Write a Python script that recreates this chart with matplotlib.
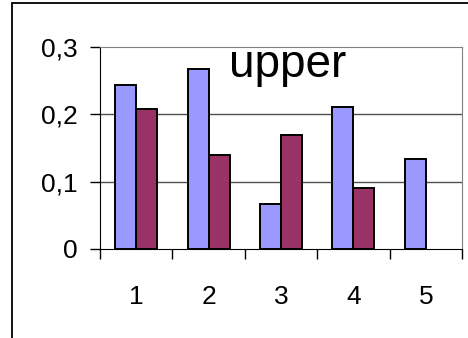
import numpy as np
import matplotlib
matplotlib.use('Agg')
import matplotlib.pyplot as plt
from matplotlib.patches import Rectangle

plt.rcParams['font.family'] = ['Liberation Sans', 'DejaVu Sans']

categories = ['1', '2', '3', '4', '5']
blue_vals = [0.244, 0.267, 0.067, 0.211, 0.134]
red_vals = [0.208, 0.140, 0.169, 0.091, np.nan]
ytick_vals = [0, 0.1, 0.2, 0.3]
ytick_labels = ['0', '0,1', '0,2', '0,3']

fig = plt.figure(figsize=(4.68, 3.38), dpi=100)

# outer chart frame (runs off the right and bottom edges)
fig.patches.append(Rectangle((12/468, -0.1), 1.0, 1 - 3/338 + 0.1,
                             transform=fig.transFigure, fill=False,
                             edgecolor='black', linewidth=1.3))

ax = fig.add_axes([100/468, 1 - 249/338, 362/468, 202/338])

x = np.arange(len(categories))
w = 0.29
ax.bar(x - w/2, blue_vals, w, color='#9999FF', edgecolor='black', linewidth=1.4, zorder=3)
ax.bar(x + w/2, red_vals, w, color='#993366', edgecolor='black', linewidth=1.4, zorder=3)

ax.set_xlim(-0.5, 4.5)
ax.set_ylim(0, 0.3)

for v in [0.1, 0.2]:
    ax.axhline(v, color='#505050', linewidth=1.0, zorder=1)

ax.spines['top'].set_color('#808080')
ax.spines['right'].set_color('#808080')
ax.spines['left'].set_color('black')
ax.spines['bottom'].set_color('black')

ax.set_yticks(ytick_vals)
ax.set_yticklabels(ytick_labels, fontsize=19)
ax.tick_params(axis='y', length=7, width=1, pad=9, direction='out')

ax.set_xticks(x)
ax.set_xticklabels(categories, fontsize=19)
ax.set_xticks(np.arange(-0.5, 5.0, 1.0), minor=True)
ax.tick_params(axis='x', which='major', length=0, pad=26)
ax.tick_params(axis='x', which='minor', length=7, width=1, direction='out')

ax.text(0.519, 0.851, 'upper', transform=ax.transAxes, fontsize=33,
        ha='center', va='baseline')

fig.savefig('out.png', dpi=100)
